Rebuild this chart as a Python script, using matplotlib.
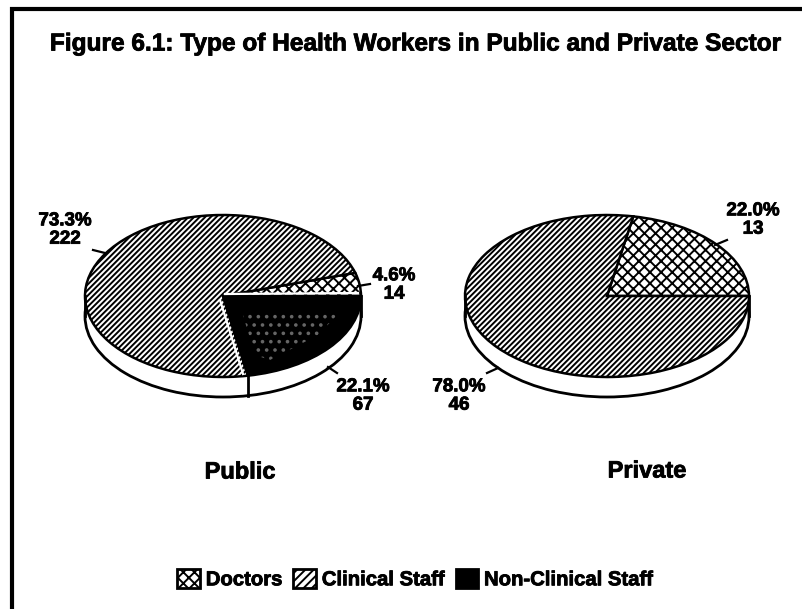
# -*- coding: utf-8 -*-
import matplotlib
matplotlib.use("Agg")
import matplotlib.pyplot as plt
import matplotlib.patheffects as pe
from matplotlib.patches import Patch, Polygon
import numpy as np

plt.rcParams['font.family'] = ['Liberation Sans', 'DejaVu Sans']
plt.rcParams['font.weight'] = 'bold'
plt.rcParams['hatch.linewidth'] = 1.4

categories = ['Doctors', 'Clinical Staff', 'Non-Clinical Staff']
public_counts = [14, 222, 67]
private_counts = [13, 46]
public_labels = ['4.6%\n14', '73.3%\n222', '22.1%\n67']
private_labels = ['22.0%\n13', '78.0%\n46']

W, H = 803, 609
fig = plt.figure(figsize=(W / 100, H / 100), dpi=100)
heavy = [pe.withStroke(linewidth=0.6, foreground='black')]


def px_axes(cx, cy, rx, ry):
    # axes covering exactly the ellipse box, data radius 1 = rx,ry pixels
    return fig.add_axes([(cx - rx) / W, 1 - (cy + ry) / H, 2 * rx / W, 2 * ry / H])


def tilted_pie(cx, cy, rx, ry, depth, counts, hatches, colors, seams=()):
    ax = px_axes(cx, cy, rx, ry)
    d = depth / ry
    # side of the disc first, same pie pushed down
    ax.pie([1], center=(0, -d), radius=1, colors=['white'],
           wedgeprops=dict(edgecolor='black', linewidth=2), frame=True)
    ax.plot([-1, -1], [0, -d], color='black', lw=2, clip_on=False)
    ax.plot([1, 1], [0, -d], color='black', lw=2, clip_on=False)
    for a in seams:
        x = np.cos(np.radians(a))
        y = np.sin(np.radians(a))
        ax.plot([x, x], [y, y - d], color='black', lw=2, clip_on=False)
    wedges, _ = ax.pie(counts, startangle=0, counterclock=True, radius=1, colors=colors,
                       wedgeprops=dict(edgecolor='black', linewidth=1.8), frame=True)
    for w, h in zip(wedges, hatches):
        if h:
            w.set_hatch(h)
    ax.set_aspect('auto')
    ax.set_xlim(-1, 1)
    ax.set_ylim(-1, 1)
    ax.axis('off')
    for c in ax.get_children():
        c.set_clip_on(False)
    return ax


tilted_pie(223, 296, 138, 81, 20, public_counts,
           ['xxx', '//////', None], ['white', 'white', 'black'], seams=[280.4])
tilted_pie(607, 296, 142, 81, 20, private_counts,
           ['xxx', '//////'], ['white', 'white'])

# overlay axes in pixel coords for text and frame
ov = fig.add_axes([0, 0, 1, 1])
ov.set_xlim(0, W)
ov.set_ylim(H, 0)
ov.axis('off')
ov.patch.set_alpha(0)

# scanner speckle in the black slice and white slivers along its edges
ov.add_patch(Polygon([(242, 312), (340, 312), (318, 335), (270, 360), (255, 355)],
                     facecolor='none', edgecolor='#666666', lw=0, hatch='..'))
ov.plot([225, 358], [294, 293], color='white', lw=1.6)
ov.plot([220, 243], [300, 374], color='white', lw=1.6)

ov.text(415, 44, 'Figure 6.1: Type of Health Workers in Public and Private Sector',
        ha='center', va='center', fontsize=17.6, path_effects=heavy)
ov.text(240, 472, 'Public', ha='center', va='center', fontsize=17, path_effects=heavy)
ov.text(647, 471, 'Private', ha='center', va='center', fontsize=17, path_effects=heavy)

lab = dict(ha='center', va='center', fontsize=13.5, linespacing=1.1, path_effects=heavy)
ov.text(65, 230, public_labels[1], **lab)
ov.text(394, 285, public_labels[0], **lab)
ov.text(363, 396, public_labels[2], **lab)
ov.text(753, 220, private_labels[0], **lab)
ov.text(459, 396, private_labels[1], **lab)

# leader lines
for x0, y0, x1, y1 in [(93, 250, 105, 253), (358, 286, 370, 284), (328, 367, 337, 373),
                       (715, 245, 727, 240), (487, 373, 498, 368)]:
    ov.plot([x0, x1], [y0, y1], color='black', lw=1.6)

# legend row
leg = fig.legend(handles=[Patch(facecolor='white', edgecolor='black', hatch='xxx', lw=2),
                          Patch(facecolor='white', edgecolor='black', hatch='////', lw=2),
                          Patch(facecolor='black', edgecolor='black', lw=2)],
                 labels=categories, loc='center', bbox_to_anchor=(415 / W, 1 - 579 / H),
                 ncol=3, frameon=False, fontsize=14.6, handlelength=1.1, handleheight=1.1,
                 handletextpad=0.3, columnspacing=0.55)
for t in leg.get_texts():
    t.set_path_effects(heavy)

# page border, no right side in the scan
ov.plot([12.5, 12.5, 803], [609, 9, 9], color='black', lw=3, clip_on=False,
        solid_joinstyle='miter')

fig.savefig('out.png', dpi=100, facecolor='white')
